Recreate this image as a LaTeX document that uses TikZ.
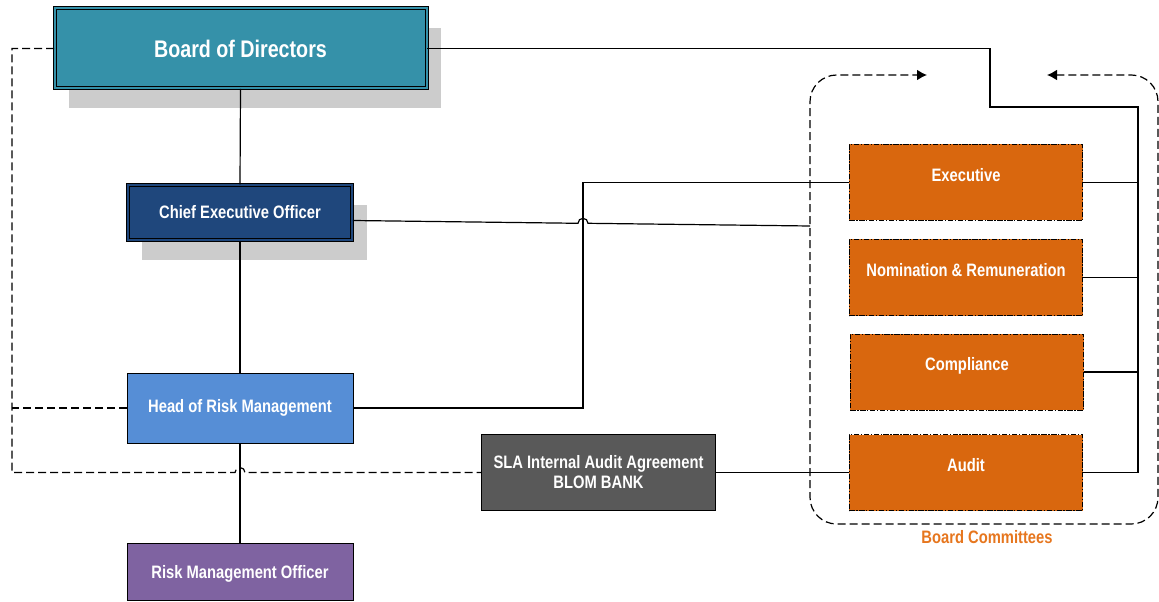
\documentclass[tikz,border=0pt]{standalone}
\usepackage{fontspec}
\setmainfont{Liberation Sans}[FakeStretch=0.82]
\usepackage{xcolor}
\usetikzlibrary{shapes,arrows.meta,positioning,shadows}

\definecolor{boardteal}{RGB}{53,145,169}
\definecolor{ceoblue}{RGB}{31,71,124}
\definecolor{riskblue}{RGB}{86,142,214}
\definecolor{officerpurple}{RGB}{127,99,161}
\definecolor{slagray}{RGB}{89,89,89}
\definecolor{committeeorange}{RGB}{217,103,14}
\definecolor{labelorange}{RGB}{230,118,30}

\begin{document}
\begin{tikzpicture}[
    x=0.75pt, y=-0.75pt,
    unit/.style={draw=black, line width=0.6pt, text=white, align=center, inner sep=0pt,
        font=\bfseries\fontsize{13.5}{15}\selectfont},
    framed/.style={unit, line width=0.75pt, fill=#1, double=#1, double distance=1.5pt},
    shadowed/.style={drop shadow={shadow xshift=11pt, shadow yshift=-15pt, fill=black!20, opacity=1}},
    committee/.style={unit, fill=committeeorange, minimum width=175pt, minimum height=57pt,
        text height=10pt, text depth=12pt,
        dash pattern=on 4pt off 1.2pt on 1pt off 1.2pt},
    link/.style={line width=0.9pt},
    report/.style={line width=0.9pt, dash pattern=on 6pt off 3pt},
    hop/.style={link}
]
\useasboundingbox (0,0) rectangle (1159,602);

% Reporting line
\node[framed=boardteal, shadowed, minimum width=279pt, minimum height=60pt,
      font=\bfseries\fontsize{18}{20}\selectfont] (bod) at (240.5,48.5) {Board of Directors};
\node[framed=ceoblue, shadowed, minimum width=168.5pt, minimum height=41.5pt] (ceo) at (240,212.5) {Chief Executive Officer};
\node[unit, fill=riskblue, minimum width=169.5pt, minimum height=52.5pt] (hrm) at (240,408) {Head of Risk Management};
\node[unit, fill=officerpurple, minimum width=169.5pt, minimum height=43pt,
      text height=11pt, text depth=1.5pt] (rmo) at (240,572) {Risk Management Officer};

% Outsourced audit
\node[unit, fill=slagray, minimum width=176pt, minimum height=57.5pt] (sla) at (598.5,472.5) {SLA Internal Audit Agreement\\BLOM BANK};

% Committees
\node[committee] (exec) at (966,182.5) {Executive};
\node[committee] (nomrem) at (966,277.5) {Nomination \& Remuneration};
\node[committee] (compl) at (967,372) {Compliance};
\node[committee] (audit) at (966,472.5) {Audit};

\draw[report, rounded corners=20pt, {Latex[length=7.5pt,width=8pt]}-{Latex[length=7.5pt,width=8pt]}]
    (1047,75) -- (1158,75) -- (1158,524) -- (810,524) -- (810,75) -- (927,75);
\node[font=\bfseries\fontsize{13.5}{15}\selectfont, text=labelorange] (bclabel) at (987,537) {Board Committees};

% Helper points
\coordinate (bendA) at (990,107);
\coordinate (busR) at (1138,107);
\coordinate (jog) at (583,182.5);
\coordinate (leftR) at (12,48.5);
\coordinate (frameW) at (810,226);

% Solid links
\draw[link] (bod.south) -- (ceo.north);
\draw[link] (ceo.south) -- (hrm.north);
\draw[link] (hrm.south) -- (rmo.north);
\draw[link] (bod.east) -| (bendA) -- (busR) |- (audit.east);
\draw[link] (exec.east) -- (exec.east -| busR);
\draw[link] (nomrem.east) -- (nomrem.east -| busR);
\draw[link] (compl.east) -- (compl.east -| busR);
\draw[link] (hrm.east) -| (jog) -- (exec.west);
\draw[hop] ([yshift=-6pt]ceo.east) -- (578,223.3) arc[start angle=180, end angle=360, radius=5] -- (frameW);
\draw[link] (sla.east) -- (audit.west);

% Dashed links
\draw[report] (bod.west) -- (leftR) |- (235,472.5) arc[start angle=180, end angle=360, radius=5] -- (sla.west);
\draw[report] (hrm.west) -- (hrm.west -| leftR);

\end{tikzpicture}
\end{document}
